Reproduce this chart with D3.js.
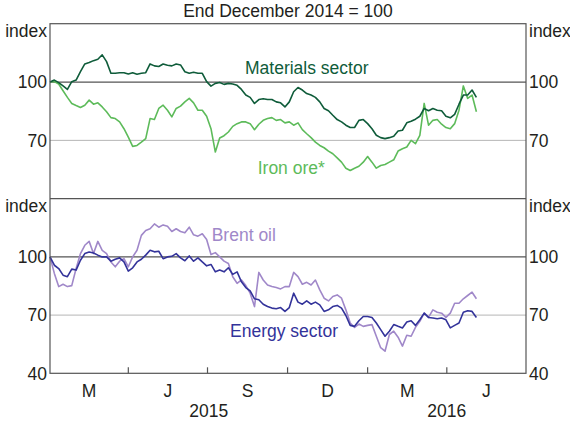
<!DOCTYPE html>
<html>
<head>
<meta charset="utf-8">
<script src="https://cdn.jsdelivr.net/npm/d3@7"></script>
<style>
  body { margin: 0; background: #fff; }
  svg text { font-family: Arial, "Liberation Sans", Helvetica, sans-serif; font-size: 17.5px; fill: #231f20; }
</style>
</head>
<body>
<svg id="chart" width="570" height="423"></svg>
<script>
// index values, one reading every 5 days from start of Jan 2015
var materials = [100, 101, 99.7, 98, 96.2, 100.2, 101, 105.3, 109.3, 110, 111, 111.7, 114, 110.5, 104.5, 104.5, 104.8, 104.8, 104.1, 104.8, 104, 104.5, 104.8, 109.3, 108.3, 108, 109.3, 108.6,
    108.3, 109.3, 108.8, 105.3, 104.5, 105, 104.5, 104.5, 100.2, 97.9, 99.3, 99.8, 98.8, 99.3, 99, 98.3, 96.2, 93.3, 92.1, 89, 91, 91.4, 91, 91, 89.8, 89.3, 87.2,
    89.8, 95, 97.2, 95.9, 94.1, 93.3, 92.1, 89.8, 86.4, 85.2, 82.9, 80.7, 79.5, 77.8, 76.6, 76.6, 80.3, 80.7, 78.6, 76, 72.6, 71.4, 70.9, 71.4, 72.1, 74.8, 75.2, 79,
    79.8, 80.9, 82.4, 86.4, 85.2, 86.4, 85.5, 85.2, 82.4, 81.6, 83.4, 88.6, 93.3, 93.3, 95.9, 92.1];

var ironOre = [100, 100.3, 99, 95.5, 92.1, 89, 87.9, 86.9, 88.1, 90.7, 88.6, 89.3, 87.2, 84.7, 81.7, 81.2, 79.5, 76, 71.7, 66.9, 67.4, 69.1, 70.9, 81.2, 80.7, 86.4, 88.1, 85.5,
    82.1, 86.4, 87.6, 89.8, 91.6, 89.3, 85.5, 85.5, 82.4, 76, 64, 71.2, 72.4, 74.3, 77.2, 78.6, 79.5, 79.5, 78.6, 75.5, 78.3, 80.3, 81.2, 81.7, 80.3, 80.7, 79,
    79.5, 77.8, 79, 75.5, 73.4, 71.4, 69.1, 67.4, 66.2, 64.5, 63.1, 61, 58.8, 55.7, 54.5, 55.7, 56.7, 58.8, 61.7, 58.8, 55.7, 57.1, 57.6, 58.8, 60, 64.5, 65.7, 66.6,
    70, 68.3, 72.6, 89, 77.8, 80.3, 80.7, 78.3, 76.6, 76, 78.6, 85.5, 98, 91.6, 93.3, 84.7];

var energy = [100, 95.7, 94, 90.6, 89.8, 93.7, 93.2, 98.3, 101.7, 102.5, 102, 100.9, 100, 100, 97.8, 98.8, 99.5, 97.4, 92.7, 94.4, 97.4, 98.8, 100.9, 103.4, 102.6, 102.9, 99.1, 100,
    100.3, 101.7, 99.5, 98, 100.5, 97.8, 99.5, 97.4, 95.4, 96.1, 92.3, 93.2, 92.3, 94.4, 91, 92.3, 87.2, 84.2, 82.5, 78.4, 77.9, 75.6, 74.4, 73.6, 73.3, 73.9, 71.9,
    73.9, 81.3, 76.7, 75.6, 77.3, 75.6, 76.7, 75.3, 71.9, 72.7, 74.4, 75, 73.6, 69.8, 64.7, 64.2, 67.1, 69.3, 69.3, 68.8, 65.9, 62.5, 59.1, 61.7, 65.1, 64.2, 63.4, 66.4,
    67.1, 64.7, 67.6, 71, 68.8, 68.5, 68.1, 68.5, 67.6, 63.4, 64.7, 65.9, 71.5, 72.2, 71.9, 68.8];

var brent = [100, 91.5, 84.7, 85.9, 84.7, 85.2, 94, 101.7, 106, 108, 101.7, 108, 103.4, 101.7, 97.4, 94.9, 97.8, 99.1, 94.9, 100, 103.4, 111.1, 113.6, 114.5, 117, 115.3, 116.5, 115.8,
    113.1, 114.5, 113.1, 112.4, 115.3, 111.4, 110.7, 111.9, 109, 101.2, 102.2, 100, 97.8, 96.6, 89.8, 86.4, 88.1, 85.2, 81.3, 74.4, 92, 88.1, 85.5, 84.7, 84.2, 83.5, 84.7,
    84.7, 92, 89.8, 85.9, 86.9, 85.5, 88.1, 83, 78.7, 77.3, 79.6, 80.4, 78.7, 72.7, 65.9, 63.7, 65.4, 64.2, 64.7, 65.1, 59.1, 53.2, 51.4, 60, 61.7, 58.6, 54, 59.6,
    59.1, 63.7, 66.8, 71, 68.8, 72.7, 71.5, 71, 68.8, 71, 76.1, 76.1, 78.4, 80.1, 81.8, 78.4];

var startDate = new Date(2015, 0, 1);
var stepDays = 5;

var yTicks = [40, 70, 100, 130];
var quarterLabels = ['M', 'J', 'S', 'D', 'M', 'J'];
var yearLabels = ['2015', '2016'];

var svg = d3.select('#chart');

// plot box edges (panelTop / panelMid / panelBottom)
var plotLeft = 50, plotRight = 526, panelTop = 23.7, panelMid = 198.7, panelBottom = 373.3;

var x = d3.scaleTime()
    .domain([new Date(2015, 0, 1), new Date(2016, 6, 1)])
    .range([plotLeft, plotRight]);

var yTop = d3.scaleLinear().domain([40, 130]).range([panelMid, panelTop]);
var yBot = d3.scaleLinear().domain([40, 130]).range([panelBottom, panelMid]);

function dateAt(i) { return d3.timeDay.offset(startDate, i * stepDays); }

// gridlines at 70 and 100 in each panel
function grid(y) {
    svg.append('line')
        .attr('x1', plotLeft).attr('x2', plotRight)
        .attr('y1', y(70)).attr('y2', y(70))
        .attr('stroke', '#b5b5b5').attr('stroke-width', 1);
    svg.append('line')
        .attr('x1', plotLeft).attr('x2', plotRight)
        .attr('y1', y(100)).attr('y2', y(100))
        .attr('stroke', '#555').attr('stroke-width', 1.2);
}
grid(yTop);
grid(yBot);

function drawSeries(values, y, colour) {
    var line = d3.line()
        .x(function(d, i) { return x(dateAt(i)); })
        .y(function(d) { return y(d); });
    svg.append('path')
        .datum(values)
        .attr('d', line)
        .attr('fill', 'none')
        .attr('stroke', colour)
        .attr('stroke-width', 1.6)
        .attr('stroke-linejoin', 'round');
}

drawSeries(ironOre, yTop, '#5dbb5a');
drawSeries(materials, yTop, '#0f5c3a');
drawSeries(brent, yBot, '#a088c9');
drawSeries(energy, yBot, '#33339a');

// frame and panel divider
svg.append('rect')
    .attr('x', plotLeft).attr('y', panelTop)
    .attr('width', plotRight - plotLeft).attr('height', panelBottom - panelTop)
    .attr('fill', 'none').attr('stroke', '#555').attr('stroke-width', 1.2);
svg.append('line')
    .attr('x1', plotLeft).attr('x2', plotRight)
    .attr('y1', panelMid).attr('y2', panelMid)
    .attr('stroke', '#555').attr('stroke-width', 1.2);

// quarter ticks pointing up from the bottom
var quarterTicks = d3.timeMonth.every(3).range(new Date(2015, 3, 1), new Date(2016, 6, 1));
svg.selectAll('.qtick')
    .data(quarterTicks)
    .enter().append('line')
        .attr('class', 'qtick')
        .attr('x1', function(d) { return x(d); })
        .attr('x2', function(d) { return x(d); })
        .attr('y1', panelBottom).attr('y2', panelBottom - 6)
        .attr('stroke', '#555').attr('stroke-width', 1.2);

// quarter labels centred in each quarter
var quarterStarts = d3.timeMonth.every(3).range(new Date(2015, 0, 1), new Date(2016, 6, 1));
svg.selectAll('.qlabel')
    .data(quarterStarts)
    .enter().append('text')
        .attr('class', 'qlabel')
        .attr('x', function(d) { return (x(d) + x(d3.timeMonth.offset(d, 3))) / 2; })
        .attr('y', 396.7)
        .attr('text-anchor', 'middle')
        .text(function(d, i) { return quarterLabels[i]; });

svg.selectAll('.ylabel')
    .data(yearLabels)
    .enter().append('text')
        .attr('class', 'ylabel')
        .attr('x', function(d) {
            var a = x(new Date(+d, 0, 1));
            var b = Math.min(x(new Date(+d + 1, 0, 1)), plotRight);
            return (a + b) / 2;
        })
        .attr('y', 416.7)
        .attr('text-anchor', 'middle')
        .text(function(d) { return d; });

// value labels on both sides
function axisLabels(y, ticks, topY) {
    ticks.forEach(function(t) {
        svg.append('text').attr('x', 47).attr('y', y(t)).attr('dy', '0.36em')
            .attr('text-anchor', 'end').text(t);
        svg.append('text').attr('x', 529).attr('y', y(t)).attr('dy', '0.36em')
            .attr('text-anchor', 'start').text(t);
    });
    svg.append('text').attr('x', 47).attr('y', topY + 13.7).attr('text-anchor', 'end').text('index');
    svg.append('text').attr('x', 529).attr('y', topY + 13.7).attr('text-anchor', 'start').text('index');
}
axisLabels(yTop, yTicks.filter(function(t) { return t == 70 || t == 100; }), panelTop);
axisLabels(yBot, yTicks.filter(function(t) { return t != 130; }), panelMid);

svg.append('text')
    .attr('x', (plotLeft + plotRight) / 2).attr('y', 17)
    .attr('text-anchor', 'middle')
    .text('End December 2014 = 100');

// series names
svg.append('text').attr('x', 245).attr('y', 74).style('fill', '#0f5c3a').text('Materials sector');
svg.append('text').attr('x', 257.7).attr('y', 174).style('fill', '#5dbb5a').text('Iron ore*');
svg.append('text').attr('x', 211.7).attr('y', 240.7).style('fill', '#a088c9').text('Brent oil');
svg.append('text').attr('x', 230).attr('y', 336.7).style('fill', '#33339a').text('Energy sector');
</script>
</body>
</html>
